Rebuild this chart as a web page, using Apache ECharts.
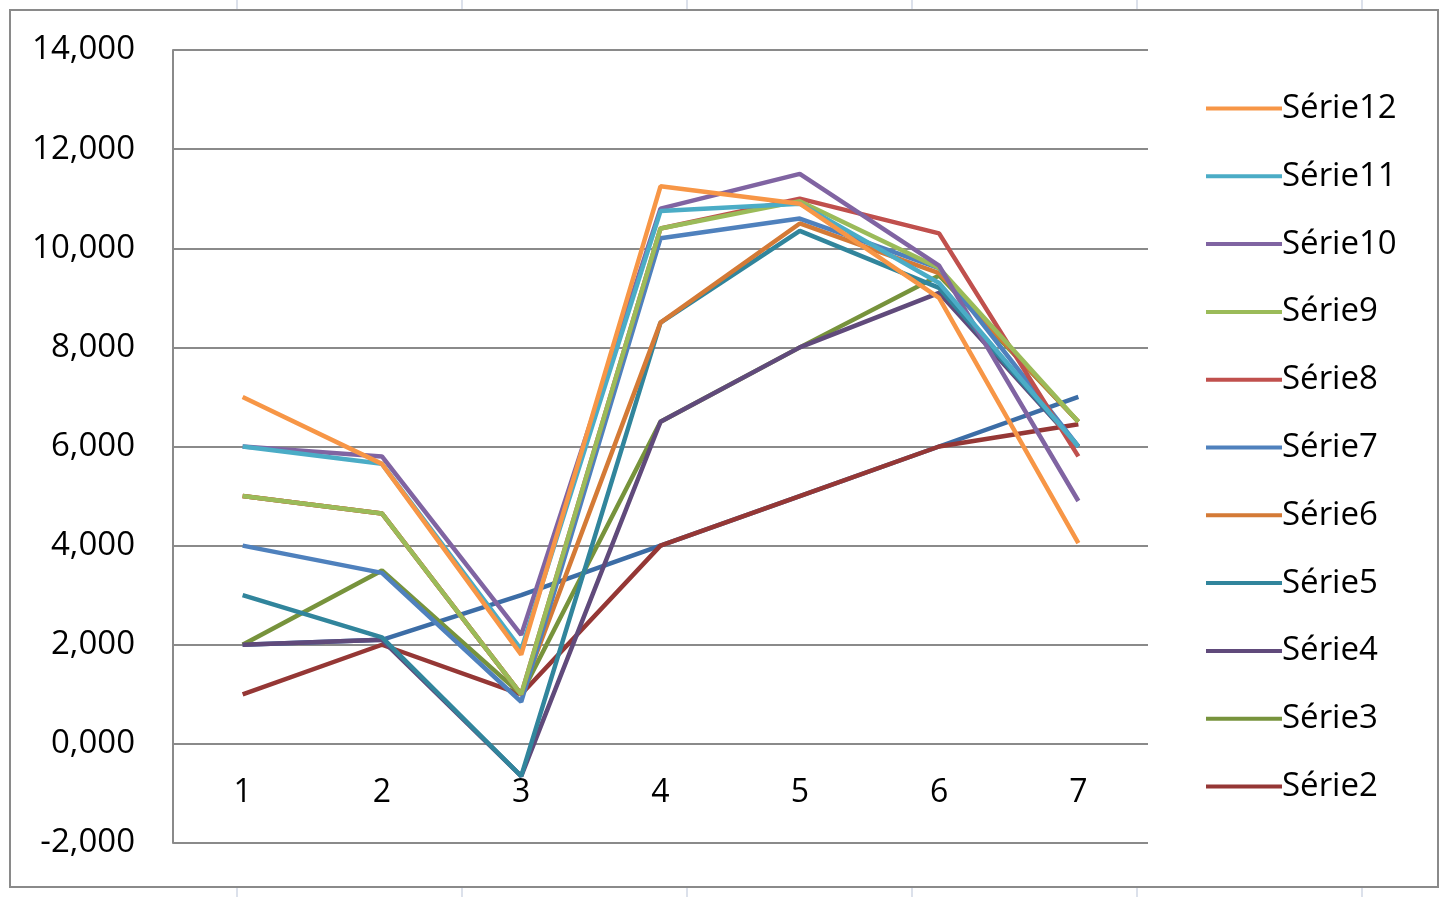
<!DOCTYPE html>
<html>
<head>
<meta charset="utf-8">
<script src="https://cdn.jsdelivr.net/npm/echarts@6/dist/echarts.min.js"></script>
<style>
html,body{margin:0;padding:0;background:#fff;}
#chart{width:1450px;height:897px;}
</style>
</head>
<body>
<div id="chart"></div>
<script>
// Categories and tick labels
const categories = ['1', '2', '3', '4', '5', '6', '7'];
const yTicks = [-2, 0, 2, 4, 6, 8, 10, 12, 14];

// Series values (in thousands as labelled "x,000")
const serie1  = [2, 2.1, 3, 4, 5, 6, 7];
const serie2  = [1, 2, 1, 4, 5, 6, 6.45];
const serie3  = [2, 3.5, 1, 6.5, 8, 9.45, 6.5];
const serie4  = [2, 2.1, -0.65, 6.5, 8, 9.1, 6];
const serie5  = [3, 2.15, -0.65, 8.5, 10.35, 9.2, 6];
const serie6  = [5, 4.65, 1, 8.5, 10.5, 9.5, 6.5];
const serie7  = [4, 3.45, 0.85, 10.2, 10.6, 9.6, 6];
const serie8  = [5, 4.65, 1, 10.4, 11, 10.3, 5.8];
const serie9  = [5, 4.65, 1, 10.4, 10.95, 9.6, 6.5];
const serie10 = [6, 5.8, 2.2, 10.8, 11.5, 9.65, 4.9];
const serie11 = [6, 5.65, 1.9, 10.75, 10.9, 9.3, 6];
const serie12 = [7, 5.65, 1.8, 11.25, 10.9, 9, 4.05];

const seriesNames = ['Série1','Série2','Série3','Série4','Série5','Série6','Série7','Série8','Série9','Série10','Série11','Série12'];
const seriesData = [serie1, serie2, serie3, serie4, serie5, serie6, serie7, serie8, serie9, serie10, serie11, serie12];
const seriesColors = ['#3C6DA6','#953735','#77933C','#604A7B','#31859C','#D47A36','#4F81BD','#C0504D','#9BBB59','#8064A2','#4BACC6','#F79646'];
const legendOrder = ['Série12','Série11','Série10','Série9','Série8','Série7','Série6','Série5','Série4','Série3','Série2'];

const FONT = 'Open Sans';

const chart = echarts.init(document.getElementById('chart'), null, {renderer: 'canvas'});

// Excel sheet cell grid lines peeking outside the chart area
const cellXs = [237, 462, 687, 912, 1137, 1362];
const graphics = [];
cellXs.forEach(x => {
  graphics.push({type: 'line', shape: {x1: x, y1: 0, x2: x, y2: 10}, style: {stroke: '#D0D7E5', lineWidth: 1.5}, z: 0});
  graphics.push({type: 'line', shape: {x1: x, y1: 888, x2: x, y2: 897}, style: {stroke: '#D0D7E5', lineWidth: 1.5}, z: 0});
});
graphics.push({type: 'rect', shape: {x: 10, y: 10, width: 1428, height: 877}, style: {fill: 'none', stroke: '#8A8A8A', lineWidth: 2}, z: 1});

chart.setOption({
  animation: false,
  backgroundColor: '#ffffff',
  textStyle: {fontFamily: FONT},
  graphic: graphics,
  grid: {left: 173, right: 302, top: 50, bottom: 54, containLabel: false, outerBoundsMode: 'none'},
  legend: {
    orient: 'vertical',
    left: 1201,
    top: 87,
    data: legendOrder,
    icon: 'rect',
    itemWidth: 76,
    itemHeight: 4,
    itemGap: 34.8,
    textStyle: {fontFamily: FONT, fontSize: 33, color: '#000', lineHeight: 32, padding: [0, 0, 0, -5]}
  },
  xAxis: {
    type: 'category',
    data: categories,
    boundaryGap: true,
    offset: -99,
    axisLine: {show: false},
    axisTick: {show: false},
    axisLabel: {fontFamily: FONT, fontSize: 32, color: '#000', margin: 33},
    splitLine: {show: false}
  },
  yAxis: {
    type: 'value',
    min: yTicks[0],
    max: yTicks[yTicks.length - 1],
    interval: 2,
    axisLine: {show: true, lineStyle: {color: '#8A8A8A', width: 2}},
    axisTick: {show: false},
    axisLabel: {
      fontFamily: FONT, fontSize: 33, color: '#000', margin: 38,
      formatter: v => v.toFixed(3).replace('.', ',')
    },
    splitLine: {show: true, lineStyle: {color: '#8A8A8A', width: 2}}
  },
  series: seriesNames.map((name, i) => ({
    name: name,
    type: 'line',
    data: seriesData[i],
    symbol: 'none',
    color: seriesColors[i],
    lineStyle: {width: 4.5, color: seriesColors[i]},
    z: 2
  }))
});
</script>
</body>
</html>
